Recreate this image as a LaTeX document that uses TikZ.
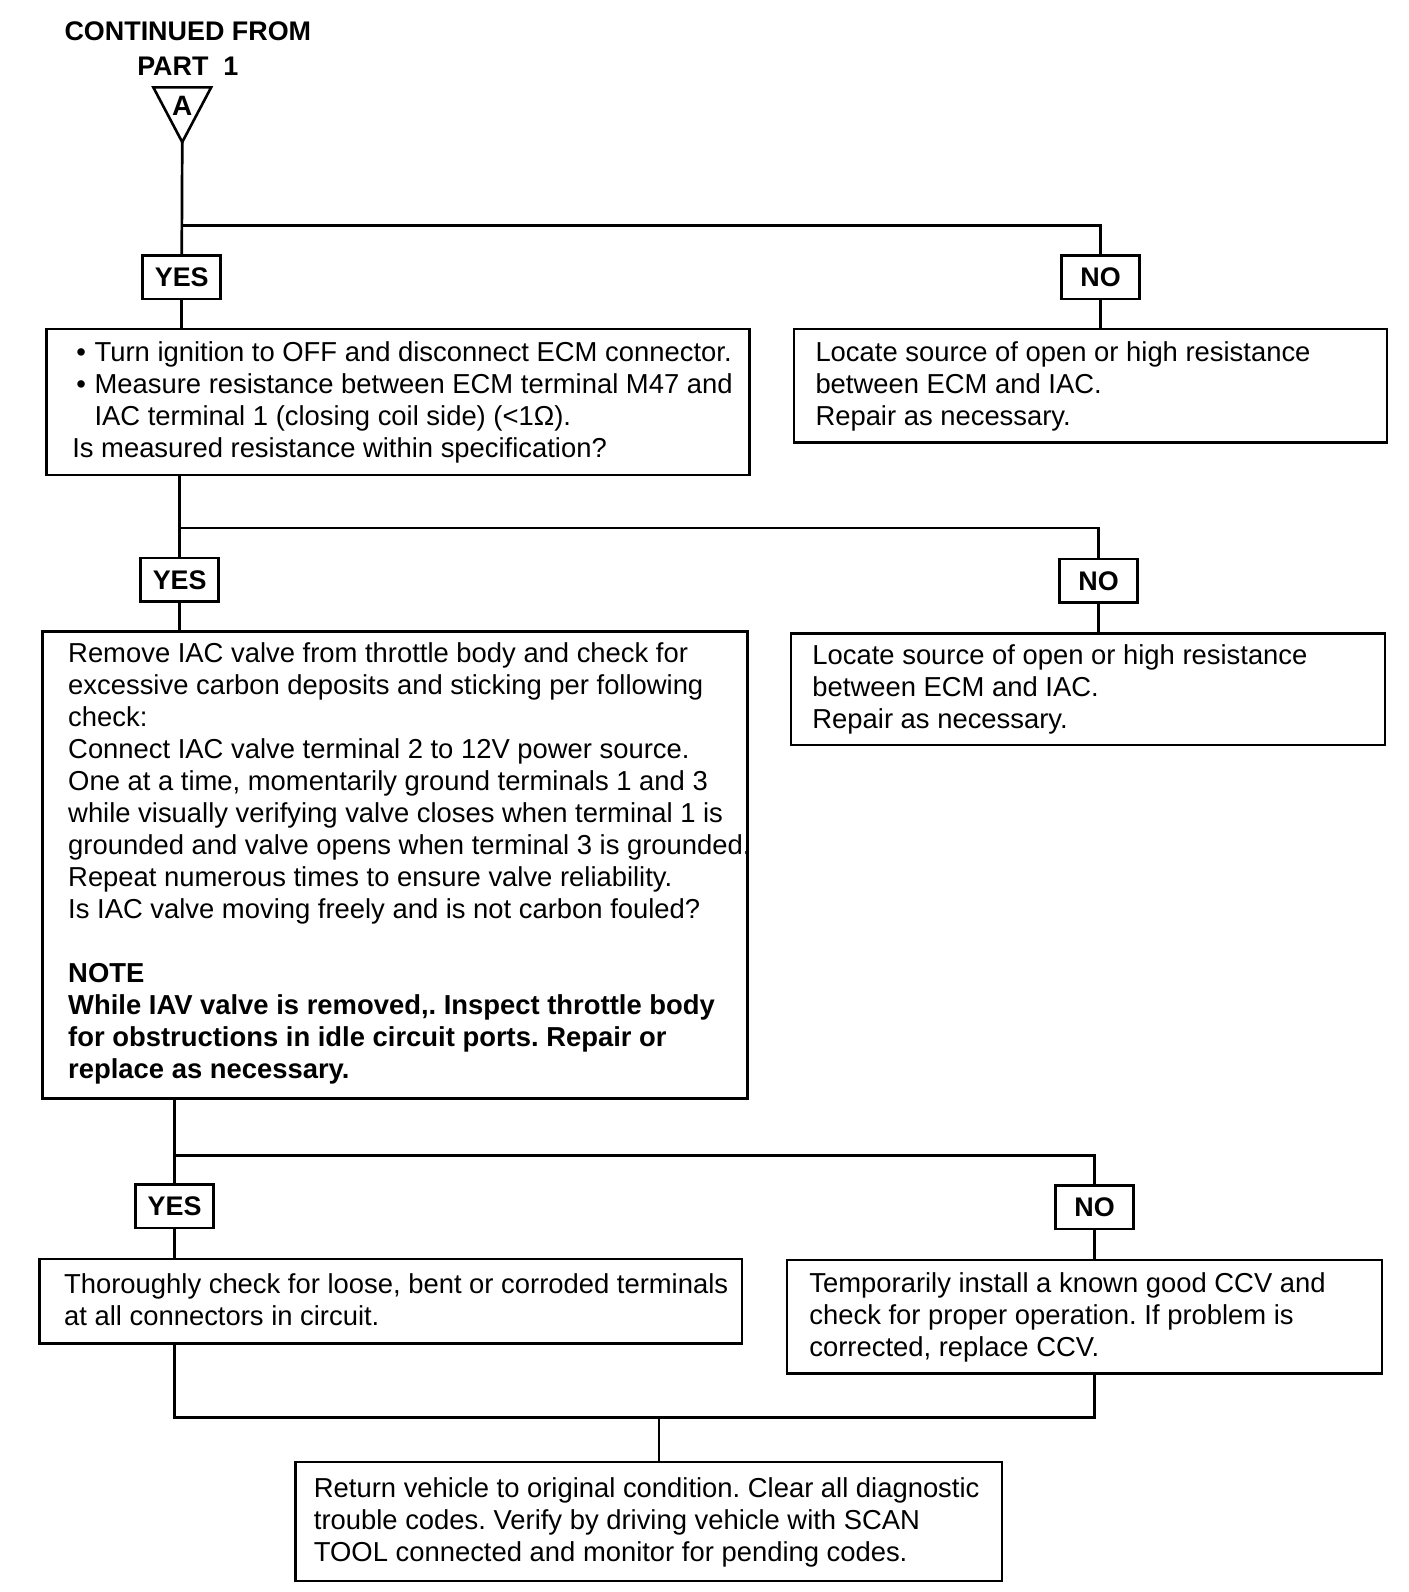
\documentclass[tikz,border=0pt]{standalone}
\usepackage{fontspec}
\setmainfont{Liberation Sans}
\usetikzlibrary{fit}
\begin{document}
\frenchspacing
\begin{tikzpicture}[x=1.0153pt,y=-1.0153pt,
 bx/.style={draw, inner sep=0pt, line width=2.5pt},
 lbl/.style={draw, line width=2.5pt, font=\fontsize{26.9}{32}\selectfont\bfseries, minimum width=78pt, minimum height=43.7pt, inner sep=0pt},
 txt/.style={font=\fontsize{27.4}{32}\selectfont\frenchspacing, align=left, inner sep=0pt, anchor=west},
 ln/.style={line width=2.7pt}]
\useasboundingbox (0,0) rectangle (1386.8,1568);
\fill[white] (0,0) rectangle (1386.8,1568);
% header
\node[font=\fontsize{26.9}{32}\selectfont\bfseries, align=center] (head) at (185,48) {CONTINUED FROM\\[3.5pt]PART\ \ 1};
\draw[line width=2.6pt, line join=miter] (151,86) -- (208,86) -- (179.5,140) -- cycle;
\node[font=\fontsize{28}{28}\selectfont\bfseries] (tA) at (179.5,104) {A};
\coordinate (apex) at (179.5,140);
% level 1
\node[lbl] (y1) at (179,273) {YES};
\node[lbl] (n1) at (1084,273) {NO};
\node[bx, fit={(46,324)(738,468)}] (b1l) {};
\node[bx, fit={(782,324)(1366,436)}] (b1r) {};
\coordinate (j1) at (179,222);
\draw[ln] (apex) -- (y1.north);
\draw[ln] (j1) -| (n1.north);
\draw[ln] (y1.south) -- (y1.south |- b1l.north);
\draw[ln] (n1.south) -- (n1.south |- b1r.north);
\node[txt] (b1lt) at (71,396) {\hspace*{4pt}\makebox[18.3pt][l]{\textbullet}Turn ignition to OFF and disconnect ECM connector.\\
\hspace*{4pt}\makebox[18.3pt][l]{\textbullet}Measure resistance between ECM terminal M47 and\\
\hspace*{22.3pt}IAC terminal 1 (closing coil side) (<1Ω).\\
Is measured resistance within specification?};
\node[txt] (b1rt) at (803,381) {Locate source of open or high resistance\\
between ECM and IAC.\\
Repair as necessary.};
% level 2
\node[lbl] (y2) at (177,571) {YES};
\node[lbl] (n2) at (1082,572) {NO};
\node[bx, fit={(42,622)(736,1082)}] (b2l) {};
\node[bx, fit={(779,624)(1364,734)}] (b2r) {};
\coordinate (j2) at (177,520);
\draw[ln] (b1l.south -| y2.north) -- (y2.north);
\draw[ln] (j2) -| (n2.north);
\draw[ln] (y2.south) -- (y2.south |- b2l.north);
\draw[ln] (n2.south) -- (n2.south |- b2r.north);
\node[txt] (b2lt) at (67,850) {Remove IAC valve from throttle body and check for\\
excessive carbon deposits and sticking per following\\
check:\\
Connect IAC valve terminal 2 to 12V power source.\\
One at a time, momentarily ground terminals 1 and 3\\
while visually verifying valve closes when terminal 1 is\\
grounded and valve opens when terminal 3 is grounded.\\
Repeat numerous times to ensure valve reliability.\\
Is IAC valve moving freely and is not carbon fouled?\\[32pt]
\textbf{NOTE}\\
\textbf{While IAV valve is removed,. Inspect throttle body}\\
\textbf{for obstructions in idle circuit ports. Repair or}\\
\textbf{replace as necessary.}};
\node[txt] (b2rt) at (800,679) {Locate source of open or high resistance\\
between ECM and IAC.\\
Repair as necessary.};
% level 3
\node[lbl] (y3) at (172,1188) {YES};
\node[lbl] (n3) at (1078,1189) {NO};
\node[bx, fit={(39,1240)(731,1323)}] (b3l) {};
\node[bx, fit={(775,1241)(1361,1353)}] (b3r) {};
\coordinate (j3) at (172,1138);
\draw[ln] (b2l.south -| y3.north) -- (y3.north);
\draw[ln] (j3) -| (n3.north);
\draw[ln] (y3.south) -- (y3.south |- b3l.north);
\draw[ln] (n3.south) -- (n3.south |- b3r.north);
\node[txt] (b3lt) at (63,1280) {Thoroughly check for loose, bent or corroded terminals\\
at all connectors in circuit.};
\node[txt] (b3rt) at (797,1298) {Temporarily install a known good CCV and\\
check for proper operation. If problem is\\
corrected, replace CCV.};
% final
\node[bx, fit={(291,1440)(987,1557)}] (fin) {};
\coordinate (j4) at (649,1396);
\draw[ln] (b3l.south -| y3.south) |- (j4) -| (b3r.south -| n3.south);
\draw[ln] (j4) -- (j4 |- fin.north);
\node[txt] (fint) at (309,1499) {Return vehicle to original condition. Clear all diagnostic\\
trouble codes. Verify by driving vehicle with SCAN\\
TOOL connected and monitor for pending codes.};
\end{tikzpicture}
\end{document}
